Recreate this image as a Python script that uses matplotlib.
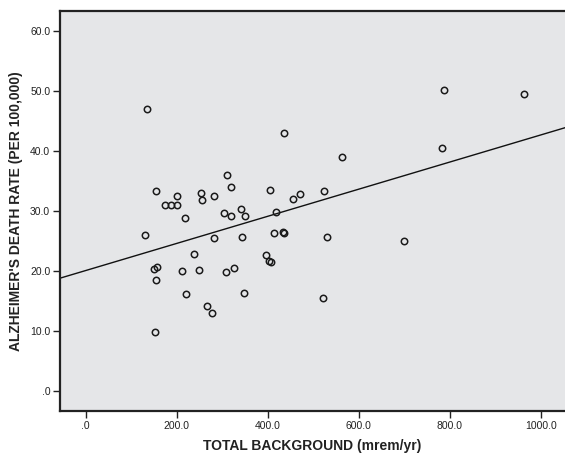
import matplotlib
matplotlib.use("Agg")
import matplotlib.pyplot as plt
from matplotlib.ticker import FuncFormatter
import numpy as np

plt.rcParams['font.family'] = ['Liberation Sans', 'DejaVu Sans']

# Data
background = [134, 154, 175, 187, 200, 201, 219, 310, 318.5, 253, 255, 282.5, 304, 319,
              341, 349, 130.5, 282.5, 342.7, 238, 150, 157, 154.4, 210.5, 248, 308, 325.5,
              221, 347.8, 266, 277.5, 152.2, 405, 456, 471.4, 524.5, 418, 414.3, 434, 435.6,
              531, 395.7, 403, 406, 435.6, 562.4, 522, 788, 962, 783, 698.6]
death_rate = [47.0, 33.4, 31.05, 31.05, 31.05, 32.55, 28.9, 36.05, 34.05, 33.0, 31.85, 32.55,
              29.75, 29.2, 30.3, 29.17, 26.05, 25.45, 25.6, 22.9, 20.4, 20.7, 18.5, 20.0, 20.1,
              19.9, 20.5, 16.1, 16.3, 14.2, 13.0, 9.8, 33.55, 32.05, 32.9, 33.33, 29.83, 26.35,
              26.5, 26.35, 25.6, 22.7, 21.6, 21.5, 42.95, 39.05, 15.5, 50.2, 49.5, 40.5, 25.0]
fit_intercept = 20.08
fit_slope = 0.0226

x_ticks = [0, 200, 400, 600, 800, 1000]
y_ticks = [0, 10, 20, 30, 40, 50, 60]
x_label = "TOTAL BACKGROUND (mrem/yr)"
y_label = "ALZHEIMER'S DEATH RATE (PER 100,000)"

fig = plt.figure(figsize=(5.65, 4.55), dpi=100)
ax = fig.add_axes([60/565, 44/455, 505/565, 400/455])
ax.set_facecolor('#E5E6E8')

xlim = (-56.5, 1053)
ylim = (-3.33, 63.33)
ax.set_xlim(*xlim)
ax.set_ylim(*ylim)

xs = np.array(xlim)
ax.plot(xs, fit_intercept + fit_slope * xs, color='#111111', lw=1.0, zorder=2)
ax.plot(background, death_rate, linestyle='none', marker='o', ms=4.6,
        mfc='none', mec='#1a1a1a', mew=1.1, zorder=3)

def fmt(v, pos):
    s = f"{v:.1f}"
    if s.startswith("0"):
        s = s[1:]
    return s

ax.set_xticks(x_ticks)
ax.set_yticks(y_ticks)
ax.xaxis.set_major_formatter(FuncFormatter(fmt))
ax.yaxis.set_major_formatter(FuncFormatter(fmt))
ax.tick_params(axis='both', direction='out', length=5, width=1.0, color='#222222',
               labelsize=7.5, labelcolor='#222222', pad=2)

for side in ['left', 'top', 'bottom']:
    ax.spines[side].set_linewidth(1.6)
    ax.spines[side].set_color('#222222')
ax.spines['right'].set_visible(False)

ax.set_xlabel(x_label, fontsize=10, fontweight='bold', color='#222222', labelpad=6)
ax.set_ylabel(y_label, fontsize=10, fontweight='bold', color='#222222', labelpad=5)

fig.savefig("out.png", dpi=100, facecolor='white')
